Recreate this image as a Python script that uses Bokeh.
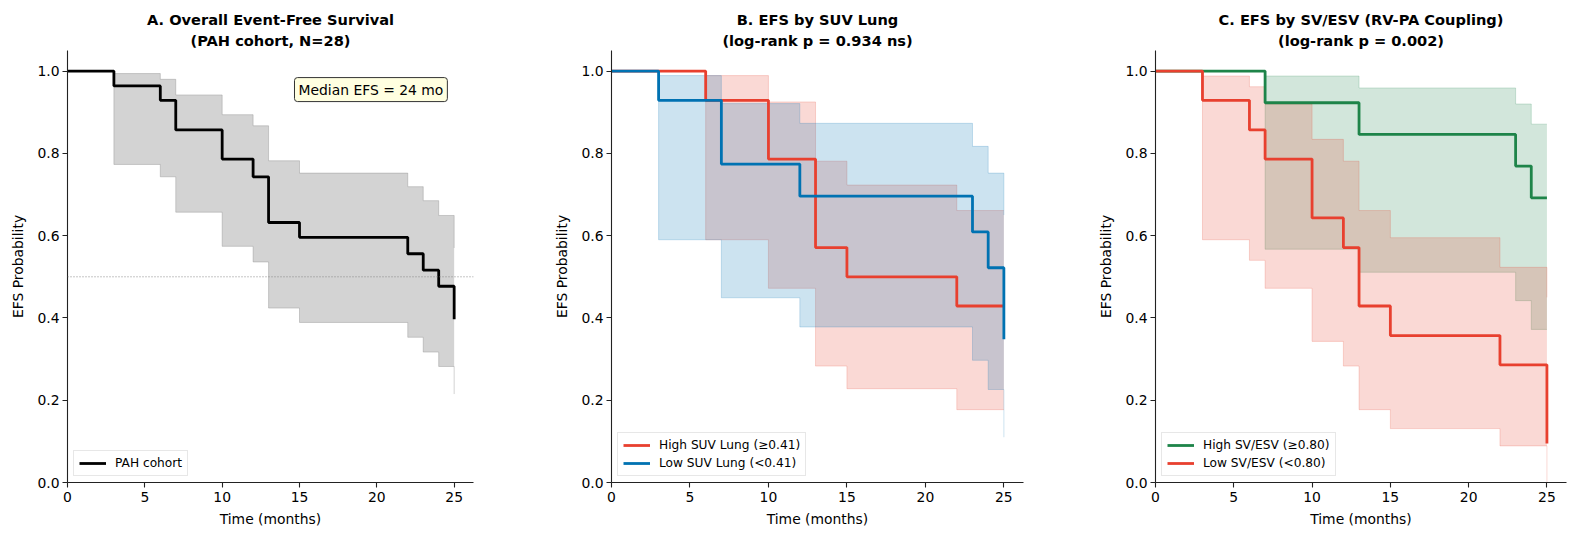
from bokeh.plotting import figure
from bokeh.layouts import row
from bokeh.models import Span, Label, FixedTicker, PrintfTickFormatter, Range1d, Title
from bokeh.embed import file_html
from bokeh.resources import INLINE

# ---------------- data ----------------
# Panel A: overall cohort
A_times = [0, 3, 6, 7, 10, 12, 13, 15, 22, 23, 24, 25]
A_surv  = [1.0, 0.964, 0.929, 0.857, 0.786, 0.743, 0.632, 0.596, 0.556, 0.516, 0.477, 0.397]
A_hi    = [1.0, 0.994, 0.980, 0.942, 0.894, 0.867, 0.782, 0.752, 0.719, 0.685, 0.649, 0.570]
A_lo    = [1.0, 0.773, 0.743, 0.657, 0.574, 0.536, 0.424, 0.389, 0.353, 0.317, 0.282, 0.215]
A_label = "PAH cohort"
A_median_text = "Median EFS = 24 mo"
A_median_level = 0.5

# Panel B: SUV Lung
B_high_times = [0, 6, 10, 13, 15, 22, 25]
B_high_surv  = [1.0, 0.929, 0.786, 0.571, 0.500, 0.429, 0.429]
B_high_hi    = [1.0, 0.989, 0.925, 0.781, 0.723, 0.661, 0.661]
B_high_lo    = [1.0, 0.590, 0.472, 0.283, 0.228, 0.177, 0.177]
B_low_times  = [0, 3, 7, 12, 23, 24, 25]
B_low_surv   = [1.0, 0.929, 0.774, 0.696, 0.609, 0.522, 0.348]
B_low_hi     = [1.0, 0.989, 0.921, 0.873, 0.817, 0.752, 0.650]
B_low_lo     = [1.0, 0.590, 0.449, 0.378, 0.297, 0.226, 0.110]
B_labels = ["High SUV Lung (\u22650.41)", "Low SUV Lung (<0.41)"]

# Panel C: SV/ESV
C_high_times = [0, 7, 13, 23, 24, 25]
C_high_surv  = [1.0, 0.923, 0.846, 0.769, 0.692, 0.692]
C_high_hi    = [1.0, 0.988, 0.959, 0.920, 0.871, 0.871]
C_high_lo    = [1.0, 0.567, 0.511, 0.442, 0.372, 0.372]
C_low_times  = [0, 3, 6, 7, 10, 12, 13, 15, 22, 25]
C_low_surv   = [1.0, 0.929, 0.857, 0.786, 0.643, 0.571, 0.429, 0.357, 0.286, 0.095]
C_low_hi     = [1.0, 0.988, 0.962, 0.920, 0.834, 0.781, 0.661, 0.595, 0.523, 0.450]
C_low_lo     = [1.0, 0.590, 0.540, 0.472, 0.343, 0.283, 0.177, 0.131, 0.089, 0.0]
C_labels = ["High SV/ESV (\u22650.80)", "Low SV/ESV (<0.80)"]

titles = [
    ["A. Overall Event-Free Survival", "(PAH cohort, N=28)"],
    ["B. EFS by SUV Lung", "(log-rank p = 0.934 ns)"],
    ["C. EFS by SV/ESV (RV-PA Coupling)", "(log-rank p = 0.002)"],
]
x_ticks = [0, 5, 10, 15, 20, 25]
y_ticks = [0.0, 0.2, 0.4, 0.6, 0.8, 1.0]
x_label = "Time (months)"
y_label = "EFS Probability"

RED = "#E8402F"
BLUE = "#0072B2"
GREEN = "#1E8449"
FONT = "DejaVu Sans"


def make_fig(title_lines, fw, mbl, mbr):
    p = figure(frame_width=fw, frame_height=432, min_border_left=mbl, min_border_right=mbr,
               min_border_top=50, min_border_bottom=50,
               x_range=Range1d(0, 26.25), y_range=Range1d(0, 1.05),
               output_backend="svg", toolbar_location=None, title=None)
    sub = Title(text=title_lines[1], align="center", text_font=FONT, text_font_size="14.6px",
                text_font_style="bold", text_color="black", standoff=4)
    main = Title(text=title_lines[0], align="center", text_font=FONT, text_font_size="14.6px",
                 text_font_style="bold", text_color="black", standoff=0)
    p.add_layout(sub, "above")
    p.add_layout(main, "above")
    p.outline_line_color = None
    p.xgrid.visible = False
    p.ygrid.visible = False
    p.background_fill_color = "white"
    p.border_fill_color = "white"
    p.xaxis.ticker = FixedTicker(ticks=x_ticks)
    p.yaxis.ticker = FixedTicker(ticks=y_ticks)
    p.yaxis.formatter = PrintfTickFormatter(format="%.1f")
    p.xaxis.axis_label = x_label
    p.yaxis.axis_label = y_label
    for ax in (p.xaxis, p.yaxis):
        ax.axis_line_color = "#222222"
        ax.axis_line_width = 1.1
        ax.major_tick_line_color = "#222222"
        ax.major_tick_line_width = 1.1
        ax.major_tick_out = 5
        ax.major_tick_in = 0
        ax.minor_tick_out = 0
        ax.minor_tick_in = 0
        ax.major_label_text_font = FONT
        ax.major_label_text_font_size = "13.9px"
        ax.major_label_text_color = "black"
        ax.axis_label_text_font = FONT
        ax.axis_label_text_font_size = "13.9px"
        ax.axis_label_text_font_style = "normal"
        ax.axis_label_text_color = "black"
    p.xaxis.major_label_standoff = 4
    p.yaxis.major_label_standoff = 3
    p.xaxis.axis_label_standoff = 6
    p.yaxis.axis_label_standoff = 8
    return p


def band(p, t, lo, hi, color, alpha):
    p.varea_step(x=t, y1=lo, y2=hi, step_mode="after", fill_color=color, fill_alpha=alpha)
    p.step(x=t, y=lo, mode="after", line_color=color, line_alpha=alpha, line_width=1)
    p.step(x=t, y=hi, mode="after", line_color=color, line_alpha=alpha, line_width=1)


def style_legend(p):
    lg = p.legend[0]
    lg.location = "bottom_left"
    lg.margin = 6
    lg.padding = 5
    lg.spacing = 4
    lg.label_height = 12
    lg.glyph_height = 12
    lg.glyph_width = 27
    lg.label_standoff = 9
    lg.label_text_font = FONT
    lg.label_text_font_size = "12.2px"
    lg.label_text_color = "black"
    lg.border_line_color = "#d0d0d0"
    lg.border_line_width = 1
    lg.background_fill_color = "white"
    lg.background_fill_alpha = 0.8


# Panel A
pA = make_fig(titles[0], 406, 67, 78)
band(pA, A_times, A_lo, A_hi, "gray", 0.35)
pA.add_layout(Span(location=A_median_level, dimension="width", line_color="gray",
                   line_dash="1 2", line_width=1, line_alpha=0.9))
pA.step(x=A_times, y=A_surv, mode="after", line_color="black", line_width=2.8, legend_label=A_label)
pA.add_layout(Label(x=24.56, y=0.955, text=A_median_text, text_align="right", text_baseline="middle",
                    text_font=FONT, text_font_size="13.9px", text_color="black",
                    background_fill_color="#ffffe0", background_fill_alpha=1.0,
                    border_line_color="#333333", border_line_width=1,
                    padding=4, border_radius=3))
style_legend(pA)

# Panel B
pB = make_fig(titles[1], 412, 60, 72)
band(pB, B_high_times, B_high_lo, B_high_hi, RED, 0.2)
band(pB, B_low_times, B_low_lo, B_low_hi, BLUE, 0.2)
pB.step(x=B_high_times, y=B_high_surv, mode="after", line_color=RED, line_width=2.8, legend_label=B_labels[0])
pB.step(x=B_low_times, y=B_low_surv, mode="after", line_color=BLUE, line_width=2.8, legend_label=B_labels[1])
style_legend(pB)

# Panel C
pC = make_fig(titles[2], 411, 60, 10)
band(pC, C_high_times, C_high_lo, C_high_hi, GREEN, 0.2)
band(pC, C_low_times, C_low_lo, C_low_hi, RED, 0.2)
pC.step(x=C_high_times, y=C_high_surv, mode="after", line_color=GREEN, line_width=2.8, legend_label=C_labels[0])
pC.step(x=C_low_times, y=C_low_surv, mode="after", line_color=RED, line_width=2.8, legend_label=C_labels[1])
style_legend(pC)

layout = row(pA, pB, pC)
open("out.html", "w").write(file_html(layout, INLINE))
